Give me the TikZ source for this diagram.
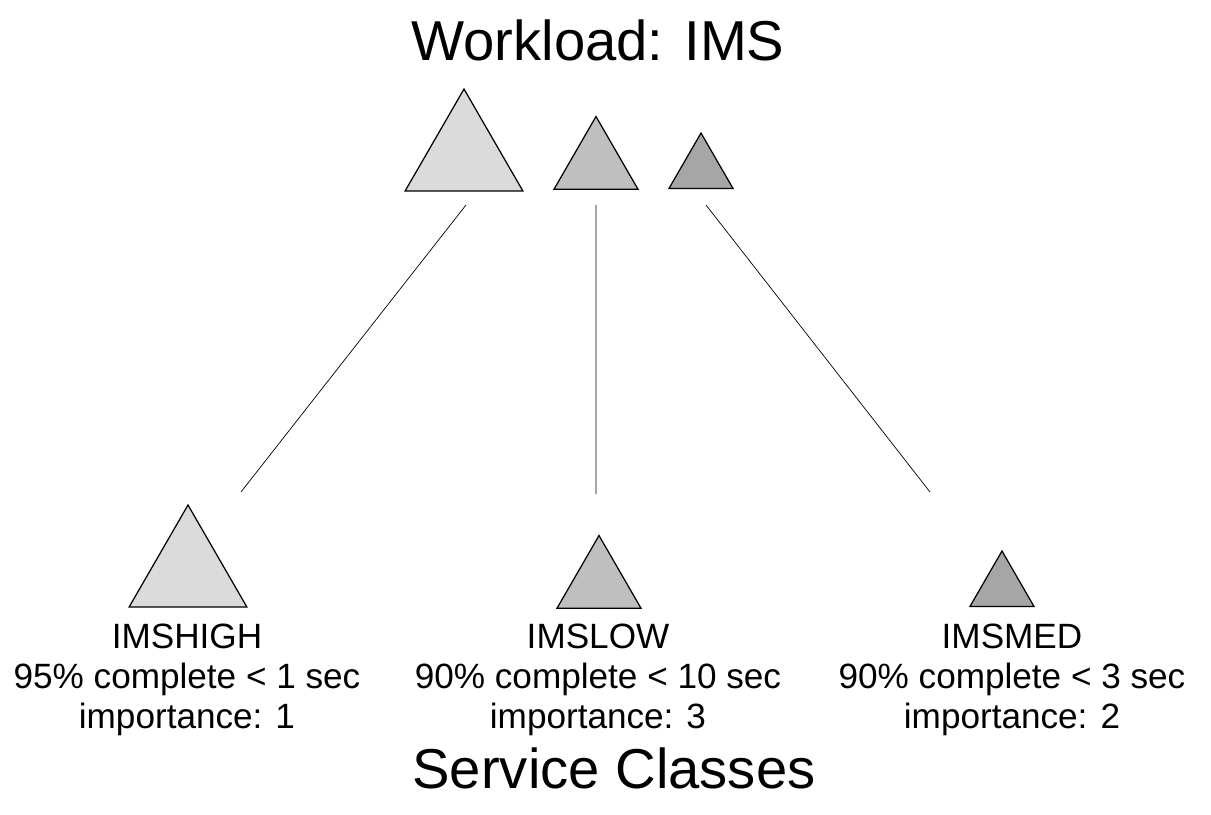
\documentclass[tikz,border=0pt]{standalone}
\usepackage{fontspec}
\setmainfont{Liberation Sans}
\usetikzlibrary{shapes.geometric}

\begin{document}
\begin{tikzpicture}[x=0.02cm,y=-0.02cm,thin,
                    tri/.style={regular polygon,regular polygon sides=3,draw,
                                line width=0.7pt,inner sep=0pt},
                    big/.style={tri,minimum size=2.72cm,fill=black!14},
                    mid/.style={tri,minimum size=1.94cm,fill=black!25},
                    small/.style={tri,minimum size=1.48cm,fill=black!35},
                    title/.style={font=\fontsize{32}{36}\selectfont},
                    label/.style={align=center,anchor=north,inner sep=0pt,
                                  font=\fontsize{20}{22.7}\selectfont}]
  \useasboundingbox (0,0) rectangle (1211,815);

  % workload
  \node[title] (wl) at (598,40) {Workload: IMS};
  \node[big]   (wh) at (464,157) {};
  \node[mid]   (wl2) at (596,165) {};
  \node[small] (wm) at (701,170) {};

  % service classes
  \node[big]   (sh) at (188,573) {};
  \node[mid]   (sl) at (599,584) {};
  \node[small] (sm) at (1002,588) {};

  \node[label] (lh) at (187,624) {IMSHIGH\\95\% complete < 1 sec\\importance: 1};
  \node[label] (ll) at (598,624) {IMSLOW\\90\% complete < 10 sec\\importance: 3};
  \node[label] (lm) at (1012,624) {IMSMED\\90\% complete < 3 sec\\importance: 2};

  \node[title] (sc) at (614,768) {Service Classes};

  \coordinate (h1) at (466,205);
  \coordinate (h2) at (241,492);
  \coordinate (l1) at (596,205);
  \coordinate (l2) at (596,494);
  \coordinate (m1) at (706,205);
  \coordinate (m2) at (930,492);

  \draw (h1) -- (h2)
        (l1) -- (l2)
        (m1) -- (m2);
\end{tikzpicture}
\end{document}
